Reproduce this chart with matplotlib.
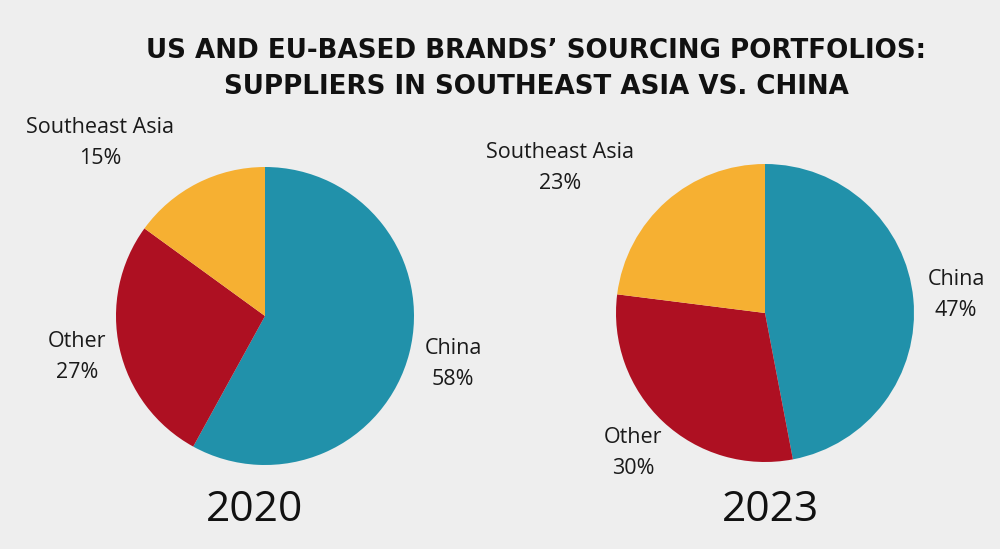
import matplotlib.pyplot as plt

# data
categories = ['China', 'Other', 'Southeast Asia']
share_2020 = [58, 27, 15]
share_2023 = [47, 30, 23]
years = ['2020', '2023']
colors = ['#2191AA', '#AE1022', '#F6B032']

BG = '#EEEEEE'
W, H = 1000, 549

plt.rcParams['font.family'] = ['Open Sans', 'DejaVu Sans']

fig = plt.figure(figsize=(W / 100, H / 100), dpi=100, facecolor=BG)


def px(x, y):
    # pixel coords (top-left origin) -> figure fraction
    return x / W, 1 - y / H


def draw_pie(cx, cy, r, values, label_pos, year, year_x):
    ax = fig.add_axes([(cx - r) / W, (H - cy - r) / H, 2 * r / W, 2 * r / H])
    ax.pie(values, colors=colors, startangle=90, counterclock=False,
           radius=1, wedgeprops=dict(linewidth=0))
    ax.set_xlim(-1, 1)
    ax.set_ylim(-1, 1)
    ax.set_aspect('equal')
    ax.axis('off')
    for name, v, (lx, ly) in zip(categories, values, label_pos):
        fx, fy = px(lx, ly)
        fig.text(fx, fy, f'{name}\n{v}%', ha='center', va='center',
                 fontsize=15.5, color='#1a1a1a', linespacing=1.6)
    fx, fy = px(year_x, 510)
    fig.text(fx, fy, year, ha='center', va='center', fontsize=30.5,
             color='#111111')


draw_pie(265, 316, 149, share_2020,
         [(453, 364), (77, 357), (100, 143)], years[0], 254)
draw_pie(765, 313, 149, share_2023,
         [(956, 295), (633, 453), (560, 168)], years[1], 770)

fx, fy = px(536, 69)
fig.text(fx, fy, 'US AND EU-BASED BRANDS\u2019 SOURCING PORTFOLIOS:\n'
         'SUPPLIERS IN SOUTHEAST ASIA VS. CHINA',
         ha='center', va='center', fontsize=18.8, fontweight='bold',
         family='DejaVu Sans', color='#111111', linespacing=1.55)

fig.savefig('out.png', dpi=100, facecolor=BG)
